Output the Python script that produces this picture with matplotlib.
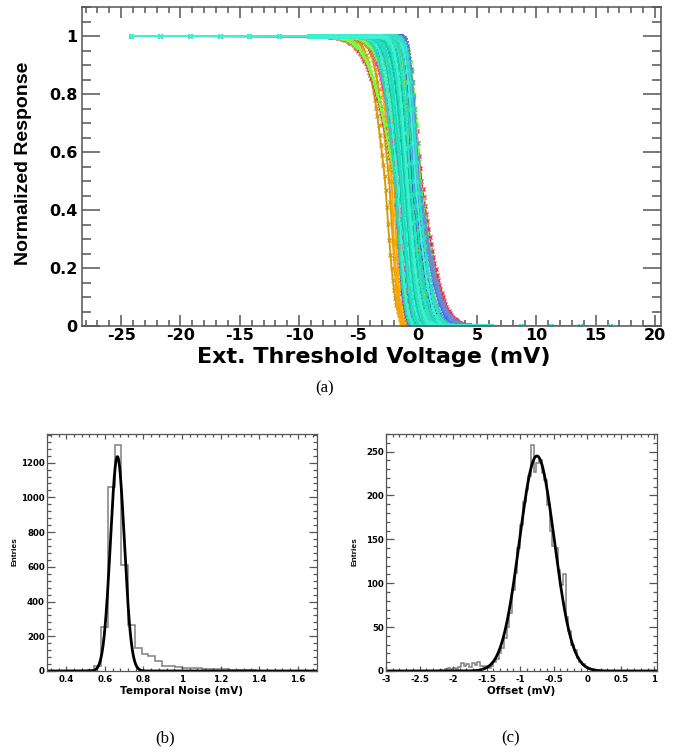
import math
import numpy as np
import matplotlib
matplotlib.use("Agg")
import matplotlib.pyplot as plt
from matplotlib.ticker import MultipleLocator, FuncFormatter

# ---------------- (a) S-curves: scan points and per-channel fit parameters ----------------
scan_low = [-24.2, -21.7, -19.2, -16.7, -14.2, -11.7]
scan_high = [6.2, 8.7, 11.2, 13.7, 16.2]
scan_fine_start, scan_fine_stop, scan_fine_step = -9.2, 6.1, 0.1

# 50 % point (mV), width above the 50 % point and width below it (mV)
channel_offset = [-2.75, -2.4, -2.2, -2.0, -1.85,
                  -1.9, -0.7, -0.3,
                  -1.9, -1.4, 0.0, 0.3,
                  -1.7, -1.3, -0.9, -0.5,
                  -1.9, -1.3, -0.2, 0.2,
                  -1.2, -0.6, -0.9, -0.6,
                  -0.5, -0.2, -0.3, 0.0, -0.1, 0.1, -0.8,
                  -1.9, -1.7, -1.5, -1.4, -1.3, -1.2, -1.1, -1.0,
                  -0.9, -0.8, -0.7, -0.6, -0.4, -0.2, 0.0, -0.9]
channel_width_high = [1.1, 1.0, 0.85, 0.8, 0.8,
                      0.9, 0.6, 0.5,
                      1.9, 1.5, 1.0, 0.9,
                      1.3, 1.0, 0.8, 0.7,
                      1.8, 1.5, 0.8, 0.6,
                      0.8, 0.6, 0.7, 0.5,
                      0.4, 0.4, 0.5, 0.5, 0.6, 0.6, 0.6,
                      1.0, 0.95, 0.9, 0.9, 0.85, 0.8, 0.8, 0.75,
                      0.75, 0.7, 0.7, 0.65, 0.6, 0.6, 0.6, 0.7]
channel_width_low = [0.65, 0.55, 0.35, 0.35, 0.4,
                     0.5, 0.9, 1.0,
                     0.8, 0.9, 1.5, 1.4,
                     0.6, 0.7, 0.9, 1.0,
                     0.6, 0.8, 1.2, 1.3,
                     0.7, 0.9, 0.8, 0.8,
                     1.1, 1.0, 1.2, 1.3, 1.5, 1.4, 0.9,
                     0.55, 0.55, 0.6, 0.6, 0.65, 0.65, 0.7, 0.7,
                     0.75, 0.75, 0.8, 0.85, 0.9, 0.95, 1.0, 0.8]
channel_color = ['#d49a10', '#d49a10', '#ffa500', '#ffa500', '#ffb000',
                 '#8a2be2', '#7a1fa0', '#9933cc',
                 '#f0204a', '#f0204a', '#f0204a', '#f0204a',
                 '#ff2fc8', '#ff2fc8', '#ee44cc', '#ff2fc8',
                 '#7cff3a', '#7cff3a', '#7cff3a', '#7cff3a',
                 '#2db84a', '#2db84a', '#9acd32', '#e0e000',
                 '#2a0fa0', '#2a0fa0', '#4466ff', '#4466ff', '#6a8ad0', '#6a8ad0', '#3b9cff',
                 '#20d8b8', '#40f0d8', '#00c8a0', '#30e0c0', '#20d8b8', '#40f0d8', '#00c8a0', '#30e0c0',
                 '#20d8b8', '#40f0d8', '#00c8a0', '#30e0c0', '#20d8b8', '#40f0d8', '#30e0c0', '#40f0d0']

# ---------------- (b) temporal noise histogram ----------------
noise_edge_start, noise_bin = 0.30, 0.035
noise_counts = [0, 0, 0, 0, 0, 0, 5, 30, 252, 1058,
                1300, 612, 266, 131, 96, 87, 58, 30, 26, 25,
                16, 15, 15, 12, 10, 10, 9, 6, 5, 5,
                4, 2, 1, 1, 0, 0, 0, 0, 0, 0]
noise_fit_amp, noise_fit_mean, noise_fit_sigma = 1235.0, 0.665, 0.036

# ---------------- (c) offset histogram ----------------
offset_edge_start, offset_bin = -3.0, 0.04
offset_counts = ([0] * 20 +
                 [1, 0, 2, 3, 2, 3, 2, 4, 9, 6,
                  8, 5, 9, 7, 10, 6, 4, 6, 3, 6,
                  10, 14, 20, 26, 38, 50, 66, 92, 112, 140,
                  166, 192, 206, 222, 258, 227, 237, 240, 226, 218,
                  189, 160, 142, 140, 115, 98, 110, 62, 46, 30,
                  24, 15, 10, 8, 4, 3, 2, 1, 1, 0] +
                 [0] * 20)
offset_fit_amp, offset_fit_mean, offset_fit_sigma = 245.0, -0.75, 0.26

# ---------------------------------------------------------------
W, H = 689, 753
fig = plt.figure(figsize=(W / 100, H / 100), dpi=100)
PX = 0.72  # points per pixel

def ax_box(l, t, r, b):
    return [l / W, 1 - b / H, (r - l) / W, (b - t) / H]

ax_a = fig.add_axes(ax_box(82, 7, 661, 326))
ax_b = fig.add_axes(ax_box(47, 434, 317, 671))
ax_c = fig.add_axes(ax_box(386, 434, 657, 671))

fmt = FuncFormatter(lambda v, p: "%g" % round(v, 6))
FRAME = '#555555'

def style(ax, xmaj, xmin, ymaj, ymin, xlen, ylen, fsize, lw, xpad, ypad):
    for s in ax.spines.values():
        s.set_color(FRAME)
        s.set_linewidth(lw)
    ax.xaxis.set_major_locator(MultipleLocator(xmaj))
    ax.xaxis.set_minor_locator(MultipleLocator(xmin))
    ax.yaxis.set_major_locator(MultipleLocator(ymaj))
    ax.yaxis.set_minor_locator(MultipleLocator(ymin))
    ax.xaxis.set_major_formatter(fmt)
    ax.yaxis.set_major_formatter(fmt)
    ax.tick_params(axis='x', which='major', direction='in', top=True, bottom=True,
                   length=xlen[0] * PX, width=lw, color=FRAME, pad=xpad)
    ax.tick_params(axis='x', which='minor', direction='in', top=True, bottom=True,
                   length=xlen[1] * PX, width=lw, color=FRAME)
    ax.tick_params(axis='y', which='major', direction='in', left=True, right=True,
                   length=ylen[0] * PX, width=lw, color=FRAME, pad=ypad)
    ax.tick_params(axis='y', which='minor', direction='in', left=True, right=True,
                   length=ylen[1] * PX, width=lw, color=FRAME)
    for lab in ax.get_xticklabels() + ax.get_yticklabels():
        lab.set_fontfamily('DejaVu Sans')
        lab.set_fontweight('bold')
        lab.set_fontsize(fsize)

# ---------------- panel (a) ----------------
scan_fine = np.arange(scan_fine_start, scan_fine_stop + 1e-9, scan_fine_step)
scan_x = np.concatenate([scan_low, scan_fine, scan_high])

def s_curve(x, mu, w_hi, w_lo):
    out = []
    for xi in x:
        w = w_hi if xi < mu else w_lo
        out.append(0.5 * math.erfc((xi - mu) / (w * math.sqrt(2.0))))
    return np.array(out)

for mu, wh, wl, col in zip(channel_offset, channel_width_high, channel_width_low, channel_color):
    ax_a.plot(scan_x, s_curve(scan_x, mu, wh, wl), color=col, lw=1.4,
              marker='x', ms=3.2, mew=0.9)

ax_a.set_xlim(-28.3, 20.5)
ax_a.set_ylim(0, 1.1)
style(ax_a, 5, 1, 0.2, 0.05, (11, 6), (18, 9), 11.5, 1.1, 1.5, 3.5)

fig.text(374 / W, 1 - 357 / H, "Ext. Threshold Voltage (mV)", ha='center', va='center',
         fontfamily='DejaVu Sans', fontweight='bold', fontsize=16)
fig.text(24 / W, 1 - 163 / H, "Normalized Response", ha='center', va='center', rotation=90,
         fontfamily='Liberation Sans', fontweight='bold', fontsize=14)

# ---------------- panel (b) ----------------
noise_edges = noise_edge_start + noise_bin * np.arange(len(noise_counts) + 1)
ax_b.stairs(noise_counts, noise_edges, color='#808080', lw=1.1)
xb = np.linspace(0.3, 1.7, 800)
ax_b.plot(xb, noise_fit_amp * np.exp(-0.5 * ((xb - noise_fit_mean) / noise_fit_sigma) ** 2),
          color='black', lw=2.0)
ax_b.set_xlim(0.3, 1.7)
ax_b.set_ylim(0, 1365)
style(ax_b, 0.2, 0.04, 200, 40, (5, 3), (8, 4), 6.2, 0.9, 3.0, 1.5)
fig.text(182 / W, 1 - 691 / H, "Temporal Noise (mV)", ha='center', va='center',
         fontfamily='DejaVu Sans', fontweight='bold', fontsize=7.5)
fig.text(15 / W, 1 - 552 / H, "Entries", ha='center', va='center', rotation=90,
         fontfamily='Liberation Sans', fontweight='bold', fontsize=6)

# ---------------- panel (c) ----------------
offset_edges = offset_edge_start + offset_bin * np.arange(len(offset_counts) + 1)
ax_c.stairs(offset_counts, offset_edges, color='#808080', lw=1.1)
xc = np.linspace(-3.0, 1.04, 800)
ax_c.plot(xc, offset_fit_amp * np.exp(-0.5 * ((xc - offset_fit_mean) / offset_fit_sigma) ** 2),
          color='black', lw=2.0)
ax_c.set_xlim(-3.0, 1.04)
ax_c.set_ylim(0, 270)
style(ax_c, 0.5, 0.1, 50, 10, (5, 3), (8, 4), 6.2, 0.9, 3.0, 1.5)
fig.text(521 / W, 1 - 691 / H, "Offset (mV)", ha='center', va='center',
         fontfamily='DejaVu Sans', fontweight='bold', fontsize=7.5)
fig.text(355 / W, 1 - 552 / H, "Entries", ha='center', va='center', rotation=90,
         fontfamily='Liberation Sans', fontweight='bold', fontsize=6)

# ---------------- captions ----------------
for txt, x, y in [("(a)", 325, 388), ("(b)", 165, 738), ("(c)", 511, 738)]:
    fig.text(x / W, 1 - y / H, txt, ha='center', va='center',
             fontfamily='Liberation Serif', fontsize=12)

fig.savefig("out.png", dpi=100)
